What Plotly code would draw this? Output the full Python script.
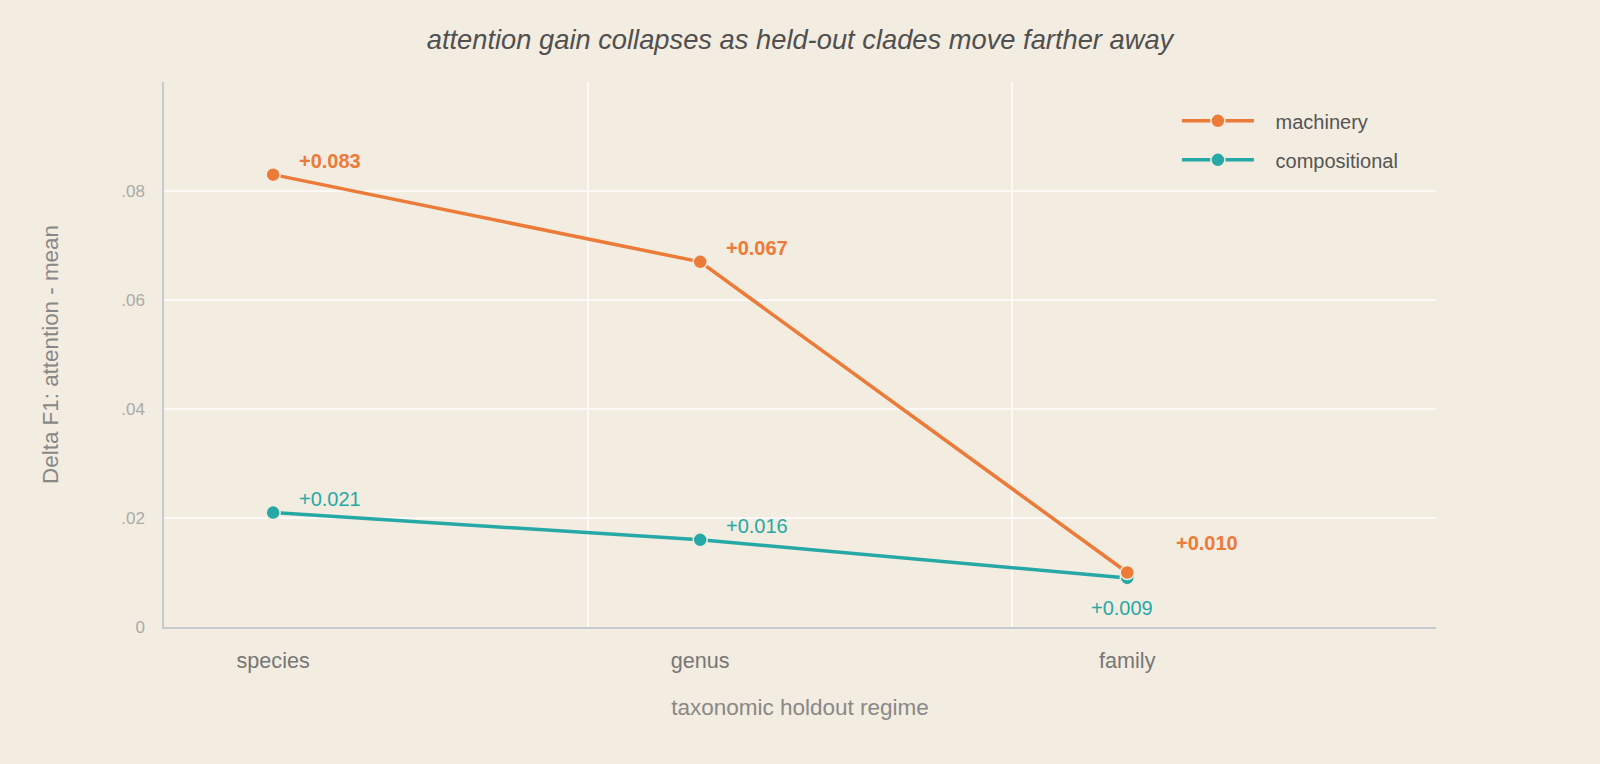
import plotly.graph_objects as go

# ---- data ----
regimes = ["species", "genus", "family"]
machinery = [0.083, 0.067, 0.010]
compositional = [0.021, 0.016, 0.009]
machinery_labels = ["+0.083", "+0.067", "+0.010"]
compositional_labels = ["+0.021", "+0.016", "+0.009"]
y_tickvals = [0, 0.02, 0.04, 0.06, 0.08, 0.10]
y_ticktext = ["0", ".02", ".04", ".06", ".08", ""]

ORANGE = "#EC7A38"
TEAL = "#26A9A6"
BG = "#F3ECE0"
FONT = "Liberation Sans, Arial, Helvetica, sans-serif"
NB = "\u00a0\u00a0\u00a0"

xpos = list(range(len(regimes)))

fig = go.Figure()
fig.add_trace(go.Scatter(
    x=xpos, y=compositional, mode="lines+markers", name=NB + "compositional",
    line=dict(color=TEAL, width=3.5),
    marker=dict(size=14, color=TEAL, line=dict(color=BG, width=1.5)),
    legendrank=2, legendgroup="c",
))
fig.add_trace(go.Scatter(
    x=xpos, y=machinery, mode="lines+markers", name=NB + "machinery",
    line=dict(color=ORANGE, width=3.5),
    marker=dict(size=14, color=ORANGE, line=dict(color=BG, width=1.5)),
    legendrank=1, legendgroup="m",
))

annotations = []
for i, (v, t) in enumerate(zip(machinery, machinery_labels)):
    last = i == len(machinery) - 1
    annotations.append(dict(
        x=xpos[i], y=v, text="<b>%s</b>" % t, showarrow=False,
        xanchor="left", yanchor="middle",
        xshift=47 if last else 24, yshift=30 if last else 14,
        font=dict(family=FONT, size=20, color=ORANGE),
    ))
for i, (v, t) in enumerate(zip(compositional, compositional_labels)):
    last = i == len(compositional) - 1
    annotations.append(dict(
        x=xpos[i], y=v, text=t, showarrow=False,
        xanchor="center" if last else "left", yanchor="middle",
        xshift=-5 if last else 24, yshift=-30 if last else 14,
        font=dict(family=FONT, size=20, color=TEAL),
    ))

fig.update_layout(
    width=1600, height=764,
    paper_bgcolor=BG, plot_bgcolor=BG,
    margin=dict(l=164, r=164, t=82, b=137, autoexpand=False),
    font=dict(family=FONT, color="#555555"),
    title=dict(
        text="attention gain collapses as held-out clades move farther away",
        x=0.5, xanchor="center", y=1 - 39 / 764, yanchor="middle",
        font=dict(family=FONT, size=27.3, color="#505050", style="italic"),
    ),
    showlegend=True,
    legend=dict(
        x=0.7963, xanchor="left", y=0.9645, yanchor="top",
        bgcolor="rgba(0,0,0,0)", font=dict(family=FONT, size=20, color="#555555"),
        traceorder="grouped", tracegroupgap=10, itemwidth=72,
    ),
    annotations=annotations,
    xaxis=dict(
        range=[-0.2556, 2.723], tickmode="array", tickvals=xpos, ticktext=regimes,
        showgrid=False, zeroline=False, showline=True, linecolor="#C5C9D0", linewidth=1.5,
        ticks="", ticklabelstandoff=13,
        tickfont=dict(family=FONT, size=21.6, color="#777777"),
        minor=dict(tickmode="array", tickvals=[0.737, 1.730, 2.723], showgrid=True,
                   gridcolor="rgba(255,255,255,0.7)", gridwidth=1.5, ticks=""),
        title=dict(text="taxonomic holdout regime", standoff=28,
                   font=dict(family=FONT, size=22.5, color="#888888")),
    ),
    yaxis=dict(
        range=[0, 0.1], tickmode="array", tickvals=y_tickvals, ticktext=y_ticktext,
        showgrid=True, gridcolor="rgba(255,255,255,0.7)", gridwidth=1.5,
        zeroline=False, showline=True, linecolor="#C5C9D0", linewidth=1.5,
        ticks="", ticklabelstandoff=14,
        tickfont=dict(family=FONT, size=17, color="#AAAAAA"),
        title=dict(text="Delta F1: attention - mean", standoff=56,
                   font=dict(family=FONT, size=22.4, color="#888888")),
    ),
)

fig.write_html("out.html")
